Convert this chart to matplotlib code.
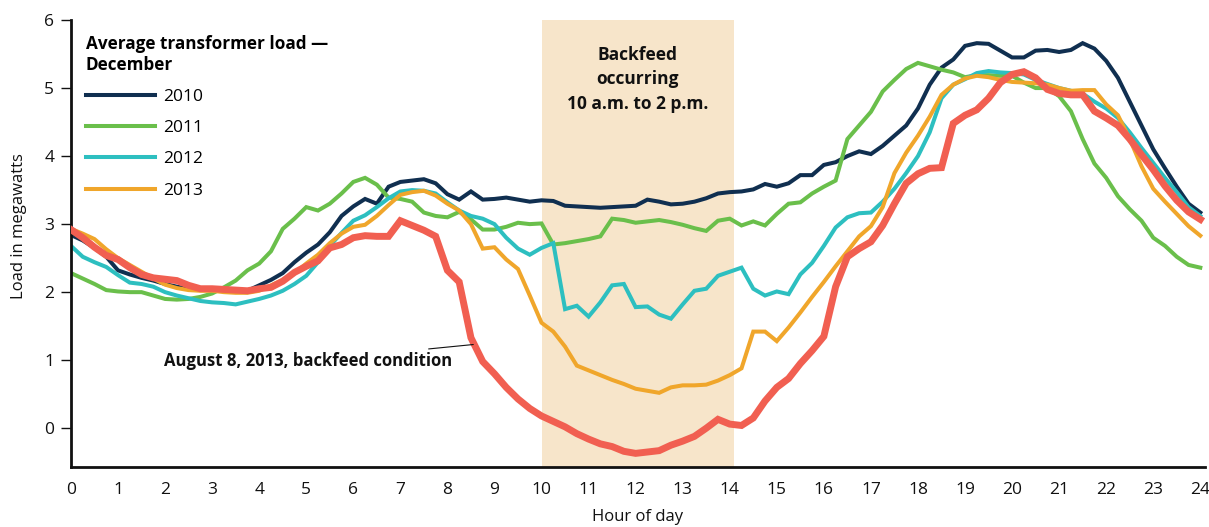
import numpy as np
import matplotlib
matplotlib.use("Agg")
import matplotlib.pyplot as plt
from matplotlib.lines import Line2D

plt.rcParams['font.family'] = ['Open Sans', 'DejaVu Sans']

# quarter-hour readings, 0:00 .. 24:00 (97 points)
hours = np.arange(97) * 0.25

load_2010 = [2.84, 2.76, 2.65, 2.52, 2.32, 2.26, 2.21, 2.17,
             2.12, 2.08, 2.05, 2.04, 2.03, 2.02, 2.01, 2.02,
             2.10, 2.18, 2.28, 2.44, 2.58, 2.70, 2.88, 3.12,
             3.26, 3.37, 3.30, 3.55, 3.62, 3.64, 3.66, 3.60,
             3.44, 3.36, 3.48, 3.36, 3.37, 3.39, 3.36, 3.33,
             3.35, 3.34, 3.27, 3.26, 3.25, 3.24, 3.25, 3.26,
             3.27, 3.36, 3.33, 3.29, 3.30, 3.33, 3.38, 3.45,
             3.47, 3.48, 3.51, 3.59, 3.55, 3.60, 3.72, 3.72,
             3.87, 3.91, 4.00, 4.07, 4.03, 4.15, 4.30, 4.45,
             4.70, 5.05, 5.30, 5.42, 5.62, 5.66, 5.65, 5.55,
             5.45, 5.45, 5.55, 5.56, 5.53, 5.56, 5.66, 5.58,
             5.40, 5.15, 4.80, 4.45, 4.10, 3.82, 3.55, 3.30,
             3.17]

load_2011 = [2.28, 2.20, 2.12, 2.03, 2.01, 2.00, 2.00, 1.95,
             1.90, 1.89, 1.90, 1.93, 1.98, 2.07, 2.17, 2.32,
             2.42, 2.60, 2.93, 3.08, 3.25, 3.20, 3.30, 3.45,
             3.62, 3.68, 3.58, 3.39, 3.37, 3.33, 3.17, 3.12,
             3.10, 3.18, 3.07, 2.92, 2.92, 2.96, 3.02, 3.00,
             3.01, 2.70, 2.72, 2.75, 2.78, 2.82, 3.08, 3.06,
             3.02, 3.04, 3.06, 3.03, 2.99, 2.94, 2.90, 3.05,
             3.08, 2.98, 3.04, 2.98, 3.15, 3.30, 3.32, 3.45,
             3.55, 3.64, 4.25, 4.45, 4.65, 4.95, 5.12, 5.28,
             5.37, 5.32, 5.27, 5.23, 5.16, 5.19, 5.19, 5.18,
             5.18, 5.08, 5.00, 5.00, 4.88, 4.66, 4.25, 3.89,
             3.68, 3.41, 3.22, 3.05, 2.80, 2.68, 2.52, 2.40,
             2.36]

load_2012 = [2.68, 2.52, 2.44, 2.37, 2.25, 2.14, 2.12, 2.08,
             2.00, 1.95, 1.91, 1.87, 1.85, 1.84, 1.82, 1.86,
             1.90, 1.95, 2.02, 2.12, 2.24, 2.44, 2.68, 2.87,
             3.05, 3.13, 3.25, 3.38, 3.48, 3.50, 3.49, 3.45,
             3.32, 3.20, 3.12, 3.08, 3.00, 2.80, 2.64, 2.55,
             2.65, 2.72, 1.75, 1.80, 1.64, 1.85, 2.10, 2.12,
             1.78, 1.79, 1.67, 1.61, 1.82, 2.02, 2.05, 2.24,
             2.30, 2.36, 2.05, 1.95, 2.01, 1.97, 2.26, 2.43,
             2.68, 2.95, 3.10, 3.16, 3.17, 3.33, 3.52, 3.75,
             4.00, 4.35, 4.85, 5.05, 5.13, 5.22, 5.25, 5.23,
             5.22, 5.20, 5.12, 5.06, 5.00, 4.96, 4.92, 4.80,
             4.70, 4.56, 4.35, 4.12, 3.90, 3.68, 3.47, 3.25,
             3.12]

load_2013 = [2.93, 2.86, 2.78, 2.63, 2.50, 2.40, 2.30, 2.20,
             2.11, 2.06, 2.03, 2.02, 2.02, 2.00, 1.99, 1.99,
             2.02, 2.10, 2.18, 2.28, 2.42, 2.55, 2.72, 2.86,
             2.96, 2.99, 3.12, 3.28, 3.43, 3.47, 3.49, 3.42,
             3.30, 3.20, 3.00, 2.64, 2.66, 2.48, 2.34, 1.95,
             1.55, 1.42, 1.20, 0.92, 0.85, 0.78, 0.71, 0.65,
             0.58, 0.55, 0.52, 0.60, 0.63, 0.63, 0.64, 0.70,
             0.78, 0.88, 1.42, 1.42, 1.28, 1.48, 1.70, 1.93,
             2.15, 2.38, 2.60, 2.82, 2.97, 3.25, 3.75, 4.05,
             4.30, 4.58, 4.90, 5.05, 5.14, 5.18, 5.16, 5.12,
             5.09, 5.08, 5.07, 5.05, 5.00, 4.96, 4.97, 4.97,
             4.76, 4.60, 4.25, 3.85, 3.52, 3.33, 3.15, 2.97,
             2.83]

load_aug8 = [2.92, 2.80, 2.66, 2.54, 2.48, 2.36, 2.26, 2.21,
             2.19, 2.17, 2.10, 2.05, 2.05, 2.04, 2.03, 2.02,
             2.05, 2.07, 2.16, 2.29, 2.38, 2.46, 2.65, 2.70,
             2.80, 2.83, 2.82, 2.82, 3.05, 2.98, 2.91, 2.82,
             2.32, 2.15, 1.33, 0.98, 0.80, 0.60, 0.43, 0.29,
             0.18, 0.10, 0.02, -0.08, -0.16, -0.23, -0.27, -0.34,
             -0.37, -0.35, -0.33, -0.25, -0.19, -0.12, 0.00, 0.13,
             0.06, 0.04, 0.15, 0.40, 0.60, 0.73, 0.95, 1.14,
             1.35, 2.08, 2.52, 2.64, 2.74, 2.98, 3.30, 3.60,
             3.74, 3.82, 3.83, 4.48, 4.60, 4.68, 4.85, 5.08,
             5.20, 5.24, 5.15, 4.98, 4.92, 4.90, 4.90, 4.66,
             4.56, 4.45, 4.25, 4.02, 3.80, 3.56, 3.35, 3.18,
             3.07]

years = ["2010", "2011", "2012", "2013"]
colors = ["#102f50", "#6abf4b", "#2dbfc0", "#f0a62b"]
red = "#f15f51"

fig = plt.figure(figsize=(12.09, 5.27), dpi=100)
ax = fig.add_axes([0.0587, 0.1139, 0.938, 0.8481])

ax.axvspan(10, 14.1, color="#f7e5ca", lw=0, zorder=0)

for vals, c in zip([load_2010, load_2011, load_2012, load_2013], colors):
    ax.plot(hours, vals, color=c, lw=2.9, solid_joinstyle="miter", zorder=2)
ax.plot(hours, load_aug8, color=red, lw=5.0, solid_joinstyle="miter", zorder=3)

ax.set_xlim(0, 24.1)
ax.set_ylim(-0.57, 6)
ax.set_xticks(range(25))
ax.set_yticks(range(7))
ax.tick_params(axis="x", length=0, pad=11, labelsize=12.5, colors="#111111")
ax.tick_params(axis="y", length=7, width=1, pad=5, labelsize=12.5, colors="#111111")
for s in ["top", "right"]:
    ax.spines[s].set_visible(False)
for s in ["left", "bottom"]:
    ax.spines[s].set_linewidth(2)
    ax.spines[s].set_color("#111111")

ax.set_xlabel("Hour of day", fontsize=12, labelpad=8, color="#111111")
ax.set_ylabel("Load in megawatts", fontsize=12, color="#111111")
ax.yaxis.set_label_coords(-0.039, 0.54)

ax.text(12.05, 5.13, "Backfeed\noccurring\n10 a.m. to 2 p.m.", ha="center", va="center",
        fontsize=12.5, fontweight="bold", linespacing=1.45, color="#111111")

ax.annotate("August 8, 2013, backfeed condition", xy=(8.55, 1.23), xytext=(8.1, 0.99),
            ha="right", va="center", fontsize=12, fontweight="bold", color="#111111",
            arrowprops=dict(arrowstyle="-", lw=0.8, color="#111111", shrinkA=1, shrinkB=0))

handles = [Line2D([0], [0], color=c, lw=2.9) for c in colors]
leg = ax.legend(handles, years, loc="upper left", bbox_to_anchor=(0.013, 0.967),
                frameon=False, fontsize=12.5, handlelength=4.0, handletextpad=0.45,
                labelspacing=0.87, borderpad=0, borderaxespad=0,
                title="Average transformer load —\nDecember", alignment="left",
                title_fontproperties={"weight": "bold", "size": 12.3})

fig.savefig("out.png", dpi=100)
